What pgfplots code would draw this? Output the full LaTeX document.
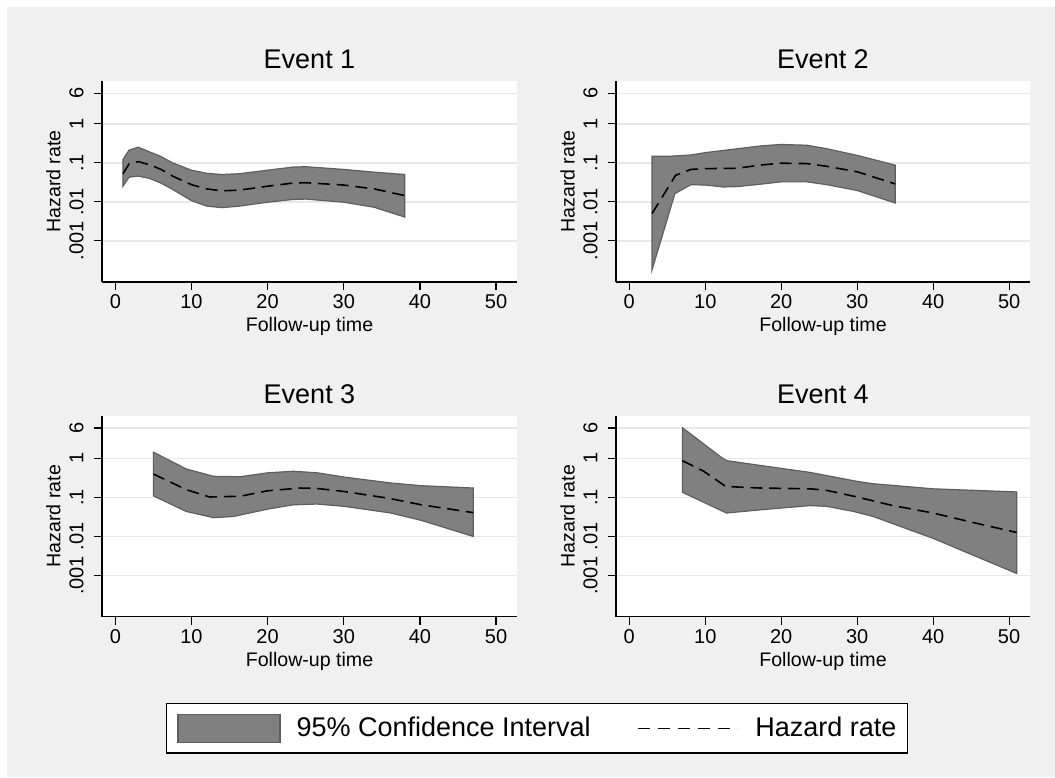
\documentclass[border=0pt]{standalone}
\usepackage{pgfplots}
\pgfplotsset{compat=1.18}
\usepackage{fontspec}
\setmainfont{Liberation Sans}
\definecolor{bgc}{HTML}{F0F0F0}
\definecolor{bandfill}{HTML}{808080}
\definecolor{bandline}{HTML}{5E5E5E}
\definecolor{gridc}{HTML}{E8E8E8}
\pgfplotsset{
  mypanel/.style={
    scale only axis, anchor=south west,
    width=207.5pt, height=100.5pt,
    xmin=-1.75, xmax=52.75,
    ymin=8.8e-5, ymax=12.5,
    axis x line*=bottom, axis y line*=left,
    axis line style={black, line width=0.6pt},
    axis background/.style={fill=white},
    xtick={0,10,20,30,40,50}, xticklabels={0,10,20,30,40,50},
    ytick={0.001,0.01,0.1,1,6}, yticklabels={.001,.01,.1,1,6},
    tick align=outside, major tick length=4pt,
    tick style={black, line width=0.6pt},
    ymajorgrids, grid style={gridc, line width=0.8pt},
    tick label style={font=\fontsize{10}{12}\selectfont},
    every x tick label/.append style={anchor=base, yshift=-9.5pt},
    every y tick label/.append style={rotate=90, anchor=base, yshift=5.3pt},
    every axis x label/.style={at={(axis description cs:0.5,-0.248)}, anchor=base, font=\fontsize{9.8}{12}\selectfont},
    every axis y label/.style={at={(axis description cs:-0.117,0.5)}, rotate=90, anchor=center, font=\fontsize{9.8}{12}\selectfont},
    every axis title/.style={at={(axis description cs:0.5,1.06)}, anchor=base, font=\fontsize{13.5}{16}\selectfont},
    xlabel={Follow-up time}, ylabel={Hazard rate},
  },
  myband/.style={fill=bandfill, draw=bandline, line width=0.6pt},
  myhaz/.style={black, line width=0.8pt, dash pattern=on 6pt off 3.4pt},
  bandleg/.style={legend image code/.code={\draw[##1] (0pt,-7pt) rectangle (51pt,7pt);}},
  hazleg/.style={legend image code/.code={\draw[##1, dash pattern=on 6pt off 4pt] (0pt,0pt) -- (50pt,0pt);}},
}
\begin{document}
\begin{tikzpicture}
\useasboundingbox (0,0) rectangle (527.5pt,388.5pt);
\fill[white] (0,0) rectangle (527.5pt,388.5pt);
\fill[bgc] (3.5pt,0) rectangle (527.5pt,385pt);

% Event 1
\begin{axis}[ymode=log, mypanel, at={(51pt,247.5pt)}, title={Event 1}]
\addplot[myband] coordinates {
(1,0.1216) (1.8,0.2113) (3,0.2512) (4.5,0.1905) (6,0.1445) (7.5,0.1) (10,0.0646) (12,0.0537) (14,0.0501) (16.3,0.0525) (20,0.0646) (23.3,0.0776) (25,0.0794) (30,0.0676) (34,0.0575) (38,0.0501)
(38,0.00407) (34,0.00724) (30,0.00977) (25,0.01175) (23.3,0.01148) (20,0.00977) (16.3,0.00776) (14,0.00708) (12,0.00776) (10,0.01072) (7.5,0.0209) (6,0.0302) (4.5,0.0398) (3,0.0457) (1.8,0.0427) (1,0.0251)
} -- cycle;
\addplot[myhaz] coordinates {
(1,0.0525) (1.8,0.0933) (3,0.1072) (4.5,0.0891) (6,0.0676) (7.5,0.0457) (10,0.0275) (12,0.0214) (14,0.0191) (16.3,0.01995) (20,0.0251) (23.3,0.0302) (25,0.0309) (30,0.0269) (34,0.0214) (38,0.01445)
};
\end{axis}

% Event 2
\begin{axis}[ymode=log, mypanel, at={(308pt,247.5pt)}, width=207pt, title={Event 2}]
\addplot[myband] coordinates {
(3,0.1479) (5.5,0.1479) (8.1,0.1585) (10,0.182) (14.2,0.2291) (17.2,0.2692) (19.9,0.2951) (23.4,0.2818) (26,0.2291) (30,0.1549) (35,0.0871)
(35,0.00933) (30,0.0195) (26,0.0275) (23.4,0.0324) (19.9,0.0324) (17.2,0.0282) (14.2,0.02455) (12.4,0.0240) (10,0.0269) (8.1,0.0275) (6,0.01622) (3,0.000182)
} -- cycle;
\addplot[myhaz] coordinates {
(3,0.00501) (6.1,0.0479) (8.1,0.0676) (10,0.0708) (14.2,0.0724) (17.2,0.0871) (19.9,0.0977) (23.4,0.0955) (26,0.0813) (30,0.0589) (35,0.0288)
};
\end{axis}

% Event 3
\begin{axis}[ymode=log, mypanel, at={(51pt,80.2pt)}, title={Event 3}]
\addplot[myband] coordinates {
(5,1.445) (9.3,0.537) (12.9,0.347) (16.4,0.339) (20,0.427) (23.4,0.468) (26.5,0.427) (30.1,0.331) (36.2,0.234) (40.2,0.1995) (47,0.174)
(47,0.01) (40.2,0.0257) (36.2,0.0398) (30.1,0.0589) (26.5,0.0676) (23.4,0.0646) (20,0.0501) (15.5,0.0324) (12.9,0.0302) (9.3,0.0437) (5,0.1096)
} -- cycle;
\addplot[myhaz] coordinates {
(5,0.398) (9.3,0.1585) (12.4,0.1023) (16.4,0.1072) (20,0.1479) (24.3,0.1738) (26.5,0.1698) (30.1,0.1413) (35.8,0.0955) (40.2,0.0646) (47,0.0407)
};
\end{axis}

% Event 4
\begin{axis}[ymode=log, mypanel, at={(308pt,80.2pt)}, width=207pt, title={Event 4},
  legend columns=2, legend cell align=left,
  legend style={at={(axis description cs:-0.191,-0.556)}, anchor=center,
    draw=black, line width=0.6pt, fill=white,
    font=\fontsize{13.5}{15}\selectfont, inner xsep=5.5pt, inner ysep=5pt,
    nodes={inner sep=0pt},
    /tikz/column 1/.style={column sep=8pt},
    /tikz/column 2/.style={column sep=23pt},
    /tikz/column 3/.style={column sep=8.5pt}},
]
\addplot[myband, bandleg] coordinates {
(7,6.10) (12.3,1.0) (12.9,0.871) (17.2,0.661) (23.8,0.437) (30,0.257) (32.1,0.224) (40,0.166) (51,0.138)
(51,0.00112) (40,0.00891) (32.1,0.0324) (29.5,0.0437) (26,0.0589) (23.8,0.0617) (17.2,0.0479) (12.8,0.0398) (7,0.135)
} -- cycle;
\addlegendentry{95\% Confidence Interval}
\addplot[myhaz, hazleg] coordinates {
(7,0.871) (9.8,0.468) (12.7,0.1905) (17.2,0.174) (23.8,0.166) (26,0.1514) (30,0.1023) (34.7,0.0617) (40,0.0398) (45.6,0.0219) (51,0.0126)
};
\addlegendentry{Hazard rate\hspace{4pt}}
\end{axis}
\end{tikzpicture}
\end{document}
